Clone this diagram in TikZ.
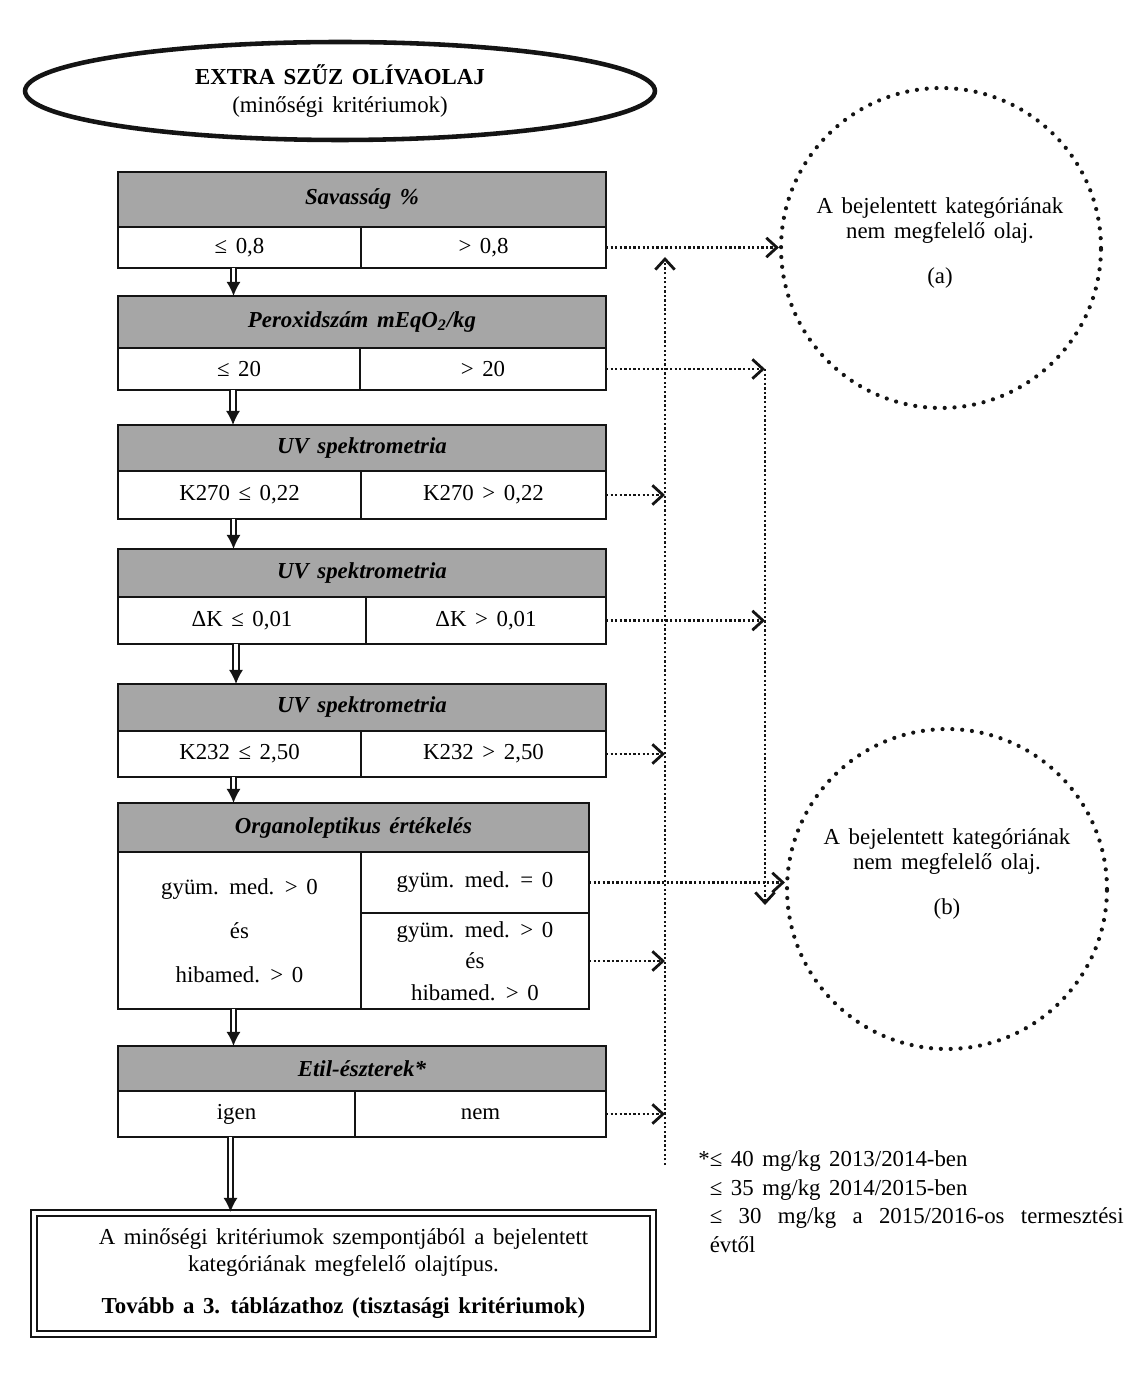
\documentclass[tikz,border=0pt]{standalone}
\usepackage{fontspec}
\setmainfont{Liberation Serif}[WordSpace=1.5]
\usetikzlibrary{arrows.meta,shapes.geometric,positioning}
\definecolor{headgrey}{RGB}{166,166,166}
\definecolor{ink}{RGB}{20,20,20}
\tikzset{
  txt/.style={font=\fontsize{13}{15}\selectfont, align=center},
  head/.style={draw=ink, fill=headgrey, line width=1.1pt, outer sep=0pt, inner sep=0pt,
    anchor=north west, font=\fontsize{13}{15}\selectfont\bfseries\itshape},
  cell/.style={draw=ink, fill=white, line width=1.1pt, outer sep=0pt, inner sep=0pt,
    anchor=north west, txt},
  dblarrow/.style={draw=ink, double, double distance=2.2pt, line width=0.9pt,
    -{Latex[length=8pt,width=8pt]}},
  dotarrow/.style={draw=ink, line width=1.4pt, dash pattern=on 1.3pt off 1.3pt,
    -{Straight Barb[length=6pt,width=11pt,line width=1.6pt]}},
  dotcirc/.style={circle, draw=ink, line width=2.4pt, dash pattern=on 0pt off 5.6pt,
    line cap=round, minimum size=6.4cm},
  circtxt/.style={txt, font=\fontsize{13}{14.5}\selectfont},
}
% one criterion: grey header and a row of two cells
% #1 name, #2 top, #3 row top, #4 bottom, #5 divider, #6 header, #7 left, #8 right
\newcommand{\critbox}[8]{
  \node[head, minimum width=9.76cm, minimum height={(#3-#2)*0.02cm}] (#1) at (118,#2) {#6};
  \node[cell, minimum width={(#5-118)*0.02cm}, minimum height={(#4-#3)*0.02cm}] (#1-l) at (118,#3) {#7};
  \node[cell, minimum width={(606-#5)*0.02cm}, minimum height={(#4-#3)*0.02cm}] (#1-r) at (#5,#3) {#8};
}

\begin{document}
\begin{tikzpicture}[x=0.02cm,y=-0.02cm]
  \useasboundingbox (0,0) rectangle (1124,1381);

  % Title ellipse.
  \node[ellipse, draw=ink, line width=2.6pt, minimum width=12.6cm, minimum height=1.96cm,
    txt, font=\fontsize{13}{15.5}\selectfont] (title) at (340,91)
    {\textbf{EXTRA SZŰZ OLÍVAOLAJ}\\(minőségi kritériumok)};

  % Criteria column.
  \critbox{sav}{172}{227}{268}{361}{Savasság \%}{≤ 0,8}{> 0,8}
  \critbox{perox}{296}{348}{390}{360}{Peroxidszám mEqO\textsubscript{2}/kg}{≤ 20}{> 20}
  \critbox{kuv}{425}{471}{519}{361}{UV spektrometria}{K270 ≤ 0,22}{K270 > 0,22}
  \critbox{dk}{549}{597}{644}{366}{UV spektrometria}{ΔK ≤ 0,01}{ΔK > 0,01}
  \critbox{kk}{684}{731}{777}{361}{UV spektrometria}{K232 ≤ 2,50}{K232 > 2,50}

  \node[head, minimum width=9.42cm, minimum height=0.98cm] (org) at (118,803) {Organoleptikus értékelés};
  \node[cell, minimum width=4.86cm, minimum height=3.14cm, font=\fontsize{13}{25}\selectfont]
    (org-l) at (118,852) {gyüm. med. > 0\\és\\hibamed. > 0};
  \node[cell, minimum width=4.56cm, minimum height=1.22cm] (org-r) at (361,852) {gyüm. med. = 0};
  \node[cell, minimum width=4.56cm, minimum height=1.92cm, font=\fontsize{13}{18}\selectfont]
    (org-rb) at (361,913) {gyüm. med. > 0\\és\\hibamed. > 0};

  \critbox{etil}{1046}{1091}{1137}{355}{Etil-észterek*}{igen}{nem}

  % Result box.
  \node[draw=ink, double, double distance=2pt, line width=1.2pt, minimum width=12.38cm,
    minimum height=2.42cm, txt, anchor=north west, font=\fontsize{13}{15.3}\selectfont]
    (fin) at (33,1212)
    {A minőségi kritériumok szempontjából a bejelentett\\kategóriának megfelelő olajtípus.\\[9pt]
     \textbf{Tovább a 3. táblázathoz (tisztasági kritériumok)}};

  \foreach \a/\b in {sav/perox, perox/kuv, kuv/dk, dk/kk, kk/org, org/etil, etil/fin}
    \draw[dblarrow] ([xshift=-0.12cm]\a-l.south) -- ([xshift=-0.12cm]\b.north -| \a-l.south);

  % Rejection circles.
  \node[dotcirc] (circA) at (941,248) {};
  \node[circtxt] (circA-txt) at (940,243) {A bejelentett kategóriának\\nem megfelelő olaj.\\[11pt](a)};
  \node[dotcirc] (circB) at (947,889) {};
  \node[circtxt] (circB-txt) at (947,874) {A bejelentett kategóriának\\nem megfelelő olaj.\\[11pt](b)};

  % Dotted collector lines.
  \coordinate (aTop) at (665,257);
  \coordinate (aBot) at (665,1165);
  \coordinate (bBot) at (765,905);
  \draw[dotarrow] (sav-r.east) -- (sav-r.east -| circA.west);
  \draw[dotarrow] (perox-r.east) -- (perox-r.east -| bBot);
  \draw[dotarrow] (perox-r.east -| bBot) -- (bBot);
  \draw[dotarrow] (aBot) -- (aTop);
  \foreach \c in {kuv-r, kk-r, org-rb, etil-r}
    \draw[dotarrow] (\c.east) -- (\c.east -| aBot);
  \draw[dotarrow] (dk-r.east) -- (dk-r.east -| bBot);
  \draw[dotarrow] (org-r.east) -- (org-r.east -| circB.west);

  % Footnote.
  \node[anchor=north west, align=left, inner sep=0pt, font=\fontsize{13}{16.4}\selectfont]
    (note) at (698,1150)
    {*≤ 40 mg/kg 2013/2014-ben\\
     \phantom{*}≤ 35 mg/kg 2014/2015-ben\\
     \phantom{*}\makebox[8.28cm][s]{≤ 30 mg/kg a 2015/2016-os termesztési}\\
     \phantom{*}évtől};

\end{tikzpicture}
\end{document}
